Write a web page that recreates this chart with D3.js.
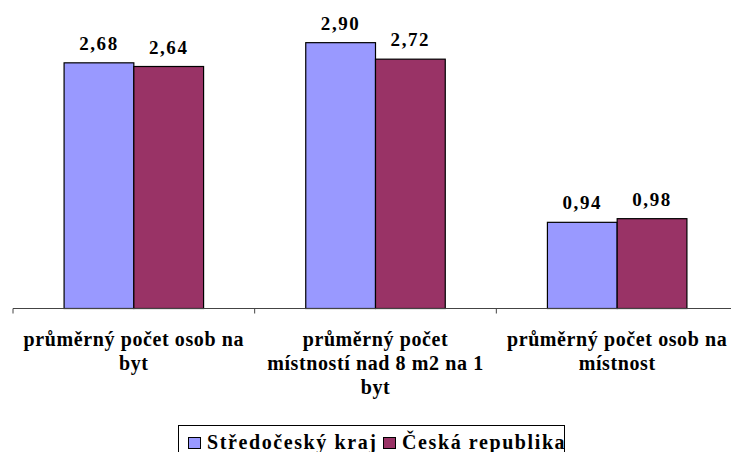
<!DOCTYPE html>
<html>
<head>
<meta charset="utf-8">
<script src="https://cdn.jsdelivr.net/npm/d3@7"></script>
<style>
body{margin:0;background:#fff;}
</style>
</head>
<body>
<div id="chart"></div>
<script>
var categories=["c1","c2","c3"];
var catlines=[
	["průměrný počet osob na","byt"],
	["průměrný počet","místností nad 8 m2 na 1","byt"],
	["průměrný počet osob na","místnost"]
];
var series=["Středočeský kraj","Česká republika"];
var stredocesky=[2.68,2.90,0.94];
var cr=[2.64,2.72,0.98];
var colors=["#9999FF","#993366"];

var width=731,height=452;
var plotleft=13,plotright=738,plottop=33.5,base=308.5;
var fontf="Liberation Serif";

var svg=d3.select("#chart").append("svg")
	.attr("width",width).attr("height",height)
	.attr("font-family",fontf).attr("font-weight","bold");

var x=d3.scaleBand().domain(categories).range([plotleft,plotright]);
var y=d3.scaleLinear().domain([0,3]).range([base,plottop]);
var groupw=139.5;
var x1=d3.scaleBand().domain([0,1]).range([0,groupw]);

var data=categories.map(function(c,i){return [stredocesky[i],cr[i]];});

var g=svg.selectAll("g.cat").data(data).enter().append("g")
	.attr("class","cat")
	.attr("transform",function(d,i){return "translate("+(x(categories[i])+x.bandwidth()/2-groupw/2)+",0)";});

g.selectAll("rect").data(function(d){return d;}).enter().append("rect")
	.attr("x",function(d,j){return x1(j);})
	.attr("y",function(d){return y(d);})
	.attr("width",x1.bandwidth())
	.attr("height",function(d){return base-y(d);})
	.attr("fill",function(d,j){return colors[j];})
	.attr("stroke","#000")
	.attr("stroke-width",1.2);

g.selectAll("text.val").data(function(d){return d;}).enter().append("text")
	.attr("class","val")
	.attr("x",function(d,j){return x1(j)+x1.bandwidth()/2;})
	.attr("y",function(d){return y(d)-13;})
	.attr("text-anchor","middle")
	.attr("font-size",19)
	.attr("letter-spacing",1.6)
	.text(function(d){return d3.format(".2f")(d).replace(".",",");});

// x axis
var ax=svg.append("g").attr("transform","translate(0,"+base+")");
ax.append("line").attr("x1",plotleft).attr("x2",width).attr("y1",0).attr("y2",0)
	.attr("stroke","#444").attr("stroke-width",1);
ax.selectAll("line.tick").data(categories).enter().append("line")
	.attr("class","tick")
	.attr("x1",function(d){return x(d);}).attr("x2",function(d){return x(d);})
	.attr("y1",0).attr("y2",5).attr("stroke","#444");

var lab=svg.selectAll("text.cat").data(catlines).enter().append("text")
	.attr("class","cat")
	.attr("text-anchor","middle")
	.attr("font-size",20)
	.attr("letter-spacing",0.6);
lab.selectAll("tspan").data(function(d,i){return d.map(function(t){return {t:t,i:i};});}).enter().append("tspan")
	.attr("x",function(d){return x(categories[d.i])+x.bandwidth()/2;})
	.attr("y",function(d,k){return 346+k*24;})
	.text(function(d){return d.t;});

// legend
var lg=svg.append("g");
lg.append("rect").attr("x",178.5).attr("y",425.5).attr("width",386).attr("height",32)
	.attr("fill","#fff").attr("stroke","#000");
var lx=[188,383];
series.forEach(function(s,i){
	lg.append("rect").attr("x",lx[i]+0.5).attr("y",437.5).attr("width",12).attr("height",11)
		.attr("fill",colors[i]).attr("stroke","#000");
	lg.append("text").attr("x",lx[i]+19).attr("y",449)
		.attr("font-size",20).attr("letter-spacing",1.6)
		.text(s);
});
</script>
</body>
</html>
